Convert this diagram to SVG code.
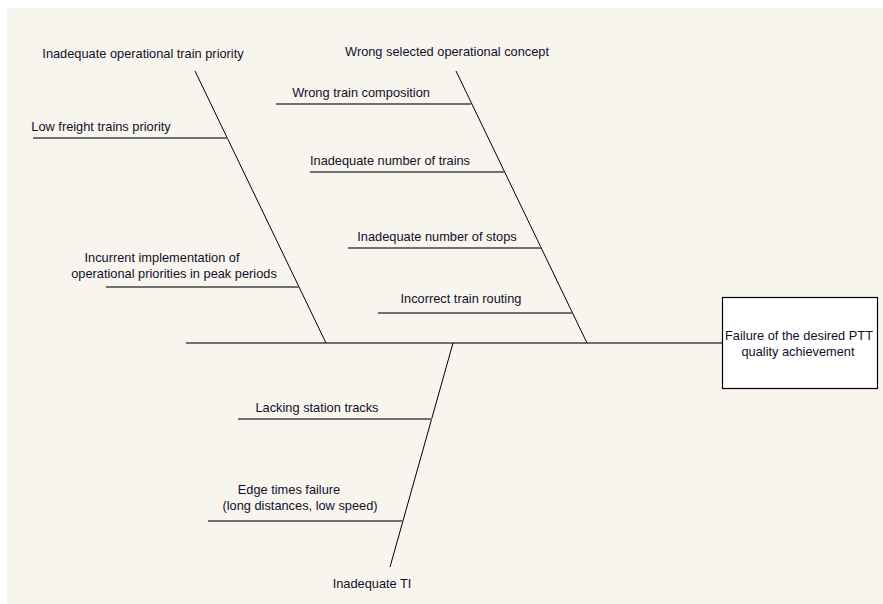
<svg xmlns="http://www.w3.org/2000/svg" width="883" height="604" viewBox="0 0 883 604">
<style>
text{font-family:"Liberation Sans",Arial,sans-serif;font-size:12.8px;fill:#10102a}
.h{stroke:#707070;stroke-width:2;fill:none}
.d{stroke:#000;stroke-width:1;fill:none}
.m{text-anchor:middle}
</style>
<rect x="0" y="0" width="883" height="604" fill="#ffffff"/>
<rect x="7" y="8" width="876" height="596" fill="#f8f5ef"/>
<g id="connectors">
<line class="h" x1="186" y1="343" x2="722" y2="343"/>
<line class="d" x1="195" y1="71" x2="326" y2="343"/>
<line class="h" x1="33" y1="138" x2="228" y2="138"/>
<line class="h" x1="106" y1="287" x2="299" y2="287"/>
<line class="d" x1="456" y1="71" x2="587" y2="343"/>
<line class="h" x1="276" y1="104" x2="471" y2="104"/>
<line class="h" x1="310" y1="172" x2="504" y2="172"/>
<line class="h" x1="348" y1="248" x2="541" y2="248"/>
<line class="h" x1="378" y1="313" x2="572" y2="313"/>
<line class="d" x1="453" y1="343" x2="390" y2="567"/>
<line class="h" x1="238" y1="419" x2="432" y2="419"/>
<line class="h" x1="208" y1="521" x2="403" y2="521"/>
</g>
<g id="effect">
<rect x="722.5" y="297.5" width="155" height="91" fill="#ffffff" stroke="#000" stroke-width="1.2"/>
<text class="m" x="799" y="340">Failure of the desired PTT</text>
<text class="m" x="798" y="356">quality achievement</text>
</g>
<g id="cause-priority"><text class="m" x="143" y="58">Inadequate operational train priority</text></g>
<g id="sub-low-freight"><text class="m" x="101" y="131">Low freight trains priority</text></g>
<g id="sub-incurrent"><text class="m" x="162" y="262">Incurrent implementation of</text><text class="m" x="174" y="278">operational priorities in peak periods</text></g>
<g id="cause-concept"><text class="m" x="447" y="56">Wrong selected operational concept</text></g>
<g id="sub-composition"><text class="m" x="361" y="97">Wrong train composition</text></g>
<g id="sub-trains"><text class="m" x="390" y="165">Inadequate number of trains</text></g>
<g id="sub-stops"><text class="m" x="437" y="241">Inadequate number of stops</text></g>
<g id="sub-routing"><text class="m" x="461" y="303">Incorrect train routing</text></g>
<g id="sub-tracks"><text class="m" x="317" y="412">Lacking station tracks</text></g>
<g id="sub-edge"><text class="m" x="289" y="494">Edge times failure</text><text class="m" x="300" y="510">(long distances, low speed)</text></g>
<g id="cause-ti"><text class="m" x="372" y="588">Inadequate TI</text></g>
</svg>
